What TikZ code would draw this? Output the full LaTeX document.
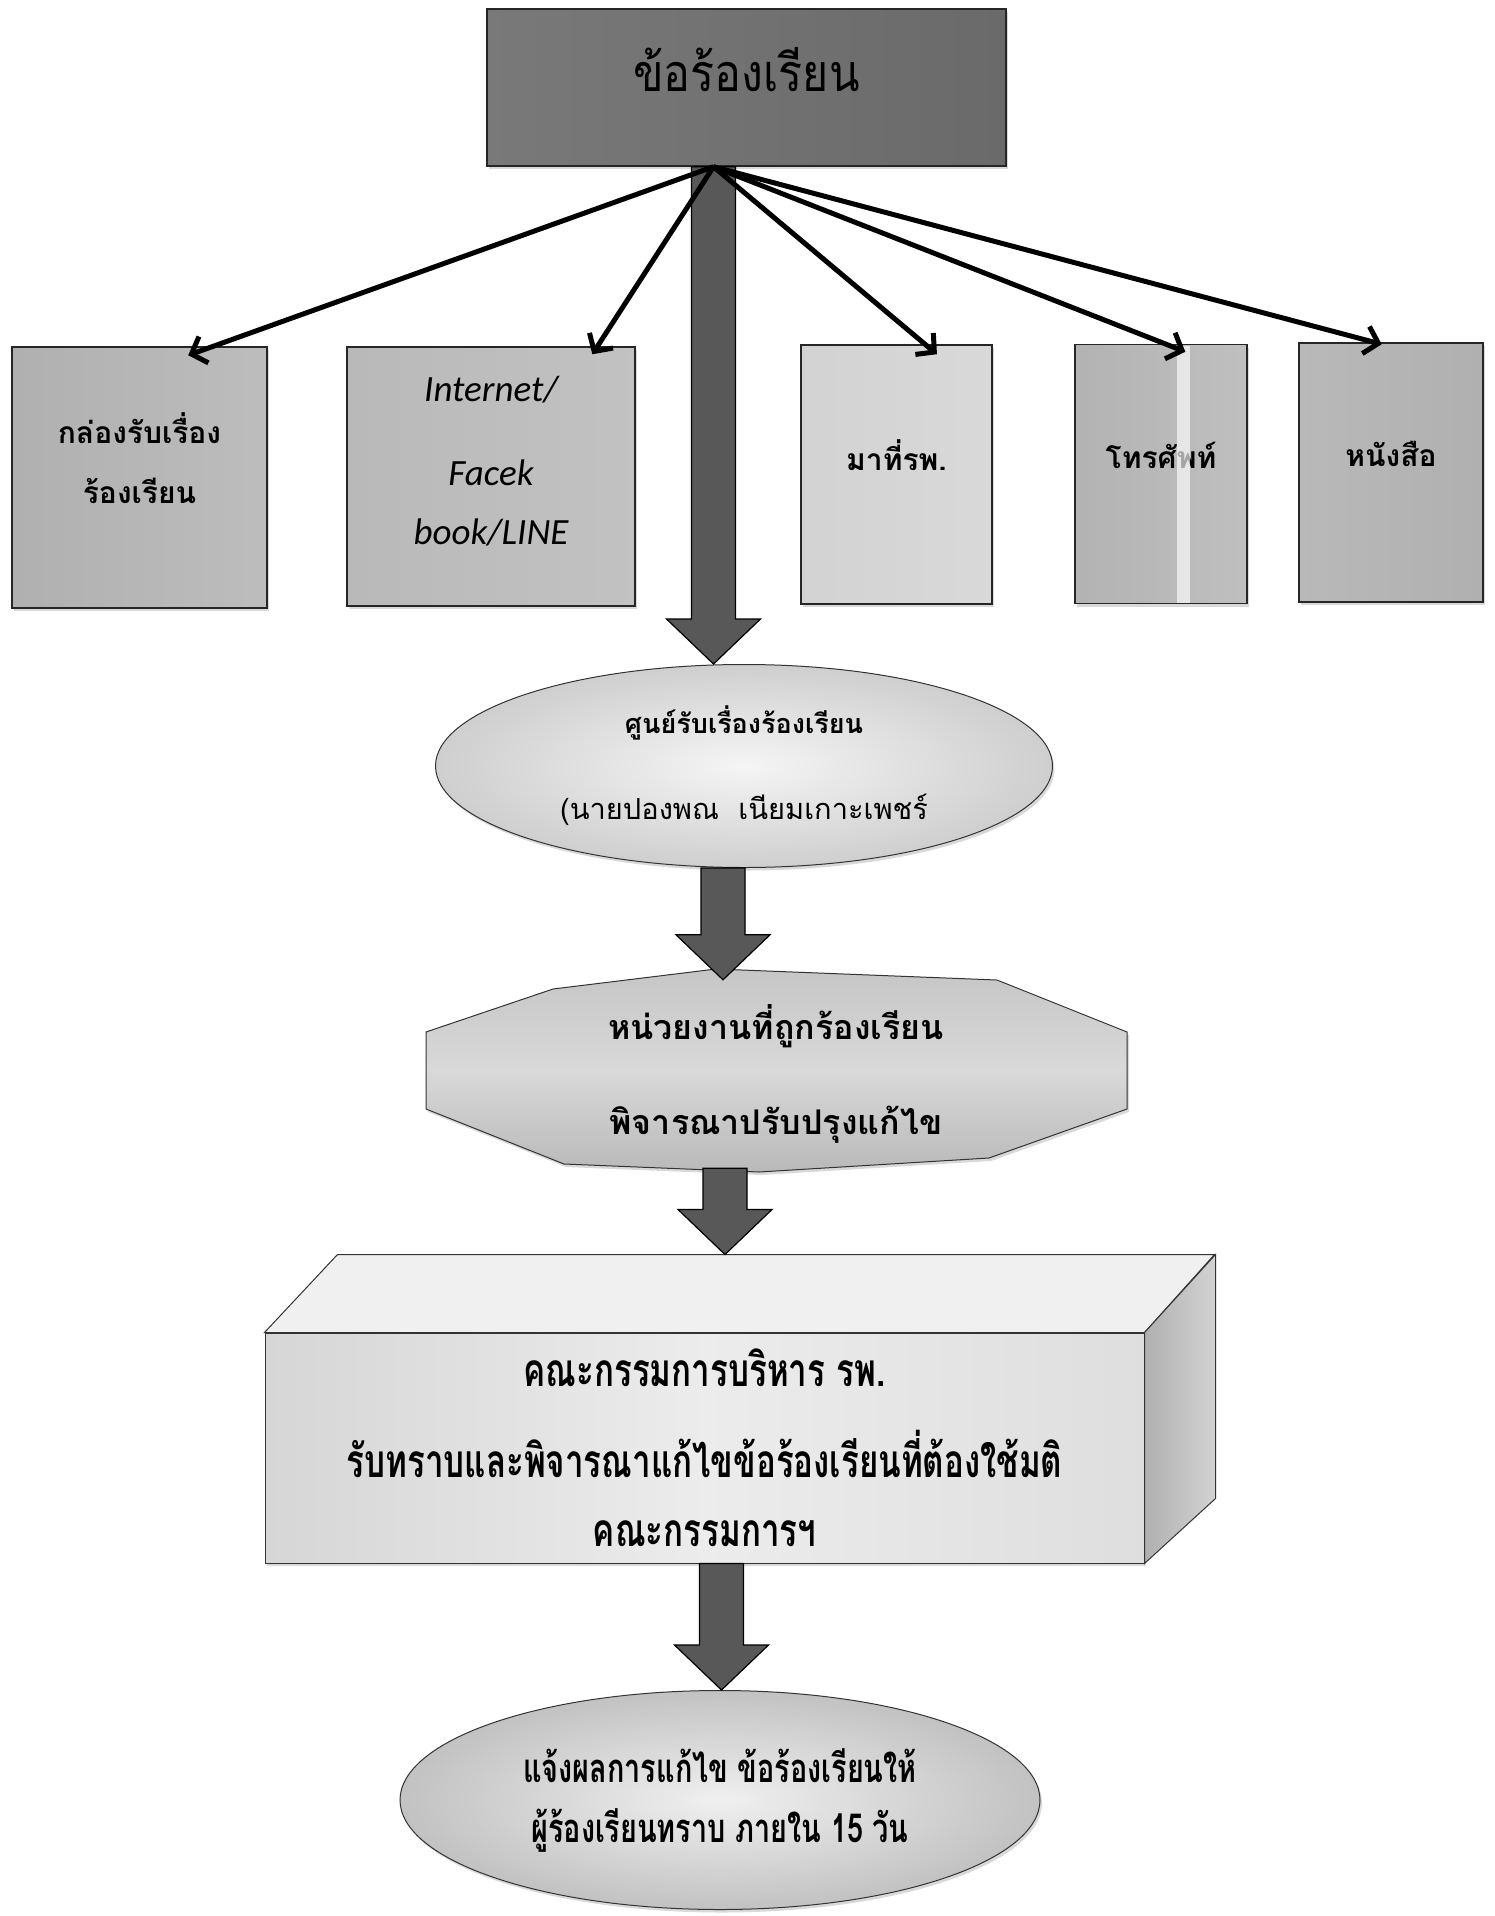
\documentclass[tikz,border=0pt]{standalone}
\usepackage{fontspec}
\setmainfont{Carlito}
\newfontfamily\thai[Script=Thai]{Loma}
\newfontfamily\thaicond[Script=Thai,FakeStretch=0.72]{Loma}
\newfontfamily\thaihead[Script=Thai,FakeStretch=0.86]{Loma}
\usetikzlibrary{calc,shapes.geometric,arrows.meta,shadows}
\definecolor{headgray}{HTML}{6A6A6A}
\definecolor{arrowgray}{HTML}{585858}
\definecolor{boardgray}{HTML}{D6D6D6}

% fat grey arrow straight down from #1 to the level of #2
\newcommand{\flowarrow}[2]{%
  \draw[fatarrow] let \p1=(#1), \p2=(#2) in
    (\x1-22pt,\y1) -- (\x1-22pt,\y2+45pt) -- (\x1-47pt,\y2+45pt) -- (\x1,\y2)
    -- (\x1+47pt,\y2+45pt) -- (\x1+22pt,\y2+45pt) -- (\x1+22pt,\y1) -- cycle;}

\begin{document}
\begin{tikzpicture}[x=1pt,y=-1pt,
  shadowed/.style={drop shadow={opacity=.3,shadow xshift=2pt,shadow yshift=-3pt}},
  srcbox/.style={draw=black!85,line width=1.5pt,shadowed,inner sep=0pt},
  boxtxt/.style={font=\thai\bfseries\fontsize{30}{60}\selectfont,align=center,inner sep=0pt},
  fatarrow/.style={fill=arrowgray,draw=black,line width=1.2pt},
  thinarrow/.style={line width=5pt,-{Straight Barb[length=13pt,width=28pt]}},
  bubble/.style={ellipse,draw=black!80,line width=1pt,shadowed,inner sep=0pt,align=center}]
\useasboundingbox (0,0) rectangle (1495,1916);

% top: the complaint
\node[srcbox,minimum width=519,minimum height=157,left color=headgray!90,right color=headgray,
  label={[boxtxt,font=\thaihead\fontsize{52}{60}\selectfont,yshift=18pt]center:ข้อร้องเรียน}]
  (top) at (746.5,87.5) {};
\coordinate (hub) at ($(top.south)+(-33,0)$);

% the five channels
\node[srcbox,minimum width=255,minimum height=261,left color=gray!62,right color=gray!52,
  label={[boxtxt,yshift=19pt]center:กล่องรับเรื่อง\\ร้องเรียน}] (b1) at (139.5,477.5) {};
\node[srcbox,minimum width=288,minimum height=259,left color=gray!55,right color=gray!48,
  label={[boxtxt,font=\itshape\fontsize{37}{59}\selectfont,yshift=15pt]center:Internet/\\[25pt]Facek\\book/LINE}]
  (b2) at (491,476.5) {};
\node[srcbox,minimum width=191,minimum height=259,left color=gray!35,right color=gray!30,
  label={[boxtxt,yshift=19pt]center:มาที่รพ.}] (b3) at (896.5,474.5) {};
\node[srcbox,minimum width=172,minimum height=259,left color=gray!60,right color=gray!50,
  label={[boxtxt,yshift=19pt]center:โทรศัพท์}] (b4) at (1161,474) {};
\fill[white,opacity=.65] (1177,346) rectangle (1190,603);
\node[srcbox,minimum width=184,minimum height=259,left color=gray!55,right color=gray!62,
  label={[boxtxt,yshift=19pt]center:หนังสือ}] (b5) at (1391,472.5) {};

% complaint centre
\node[bubble,minimum width=617,minimum height=203,inner color=gray!8,outer color=gray!38,
  font=\thai\fontsize{27}{86}\selectfont]
  (e1) at (744,766) {\textbf{ศูนย์รับเรื่องร้องเรียน}\\{\fontsize{29}{86}\selectfont(นายปองพณ\ \ เนียมเกาะเพชร์}};

% unit concerned (octagon)
\coordinate (octc) at (776,1074);
\draw[draw=black!80,line width=1pt,top color=gray!45,bottom color=gray!55,middle color=gray!30,shadowed,shift={(octc)}]
  (-223,-85) -- (-60,-105) -- (221,-94) -- (351,-42) -- (351,35) -- (213,84) -- (-17,98)
  -- (-212,90) -- (-350,35) -- (-350,-42) -- cycle;
\node[align=center,inner sep=0pt,minimum width=701,minimum height=188,
  font=\thai\bfseries\fontsize{34}{95}\selectfont]
  (oct) at (octc) {หน่วยงานที่ถูกร้องเรียน\\พิจารณาปรับปรุงแก้ไข};

% board (3d block)
\node[draw=black!80,line width=1pt,minimum width=879,minimum height=230,inner sep=0pt,
  left color=boardgray,right color=boardgray!80,middle color=white!85!gray,shadowed,align=center,
  font=\thaicond\bfseries\fontsize{46}{69}\selectfont]
  (board) at (704.5,1448) {คณะกรรมการบริหาร รพ.\\[22pt]รับทราบและพิจารณาแก้ไขข้อร้องเรียนที่ต้องใช้มติ\\คณะกรรมการฯ};
\draw[draw=black!80,line width=1pt,fill=gray!12]
  (board.north west) -- ++(73,-78) -- ++(877,0) -- (board.north east) -- cycle;
\draw[draw=black!80,line width=1pt,left color=gray!62,right color=gray!35]
  (board.north east) -- ++(71,-78) -- ++(0,244) -- (board.south east) -- cycle;

% reply to complainant
\node[bubble,minimum width=640,minimum height=219,inner color=gray!12,outer color=gray!48,
  font=\thaicond\bfseries\fontsize{40}{60}\selectfont]
  (e2) at (720,1800) {แจ้งผลการแก้ไข ข้อร้องเรียนให้\\ผู้ร้องเรียนทราบ ภายใน 15 วัน};

% fat arrows
\flowarrow{hub}{e1.north}
\flowarrow{$(e1.south)+(-21,0)$}{oct.north}
\flowarrow{$(oct.south)+(-51,0)$}{$(board.north)+(0,-78)$}
\flowarrow{$(board.south)+(17,0)$}{e2.north}

% thin arrows to the channels
\draw[thinarrow] (hub) -- ($(b1.north west)!.69!(b1.north east)+(0,9)$);
\draw[thinarrow] (hub) -- ($(b2.north west)!.85!(b2.north east)+(0,8)$);
\draw[thinarrow] (hub) -- ($(b3.north west)!.71!(b3.north east)+(0,10)$);
\draw[thinarrow] (hub) -- ($(b4.north west)!.64!(b4.north east)+(0,8)$);
\draw[thinarrow] (hub) -- ($(b5.north west)!.45!(b5.north east)+(0,2)$);
\end{tikzpicture}
\end{document}
